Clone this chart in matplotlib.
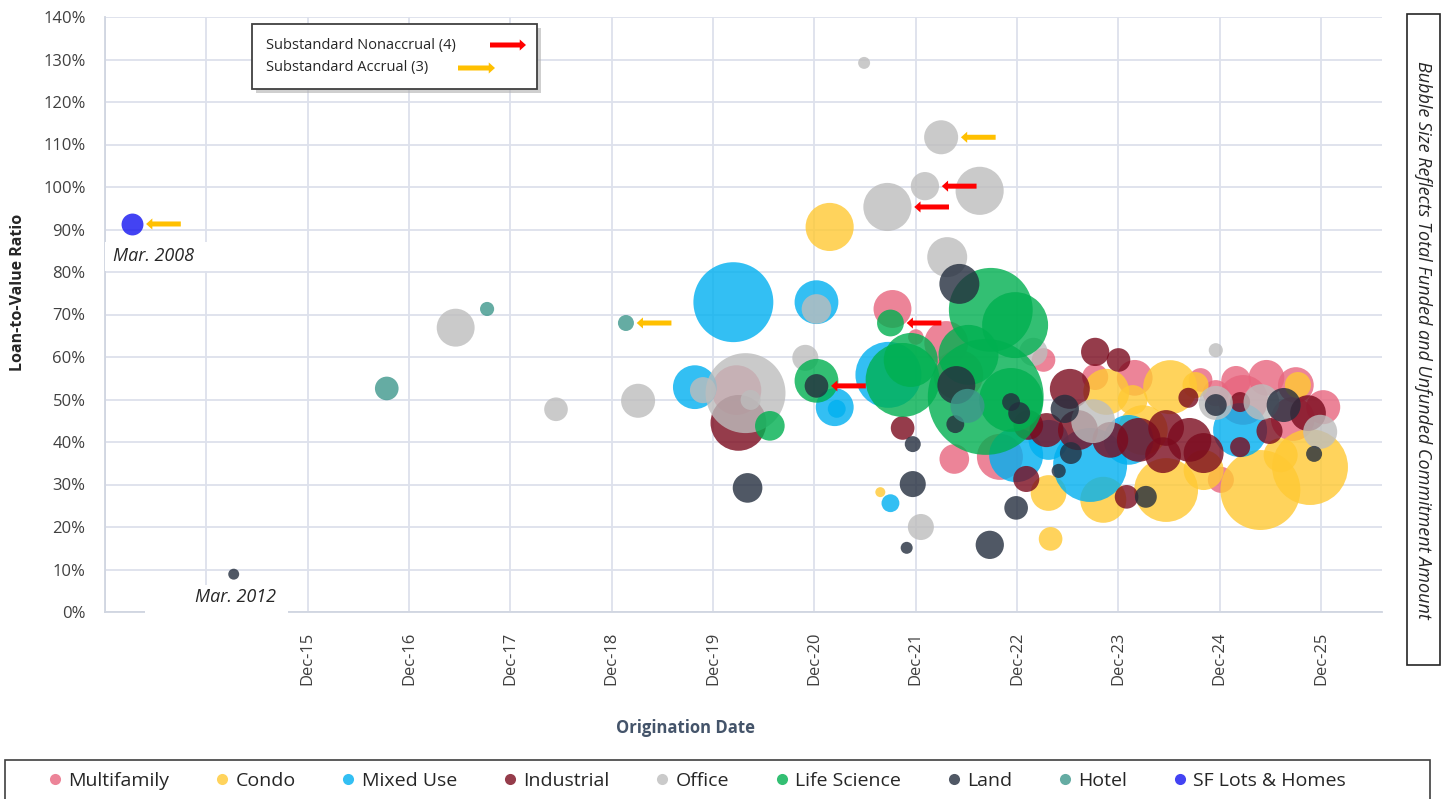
import numpy as np
import matplotlib
matplotlib.use('Agg')
import matplotlib.pyplot as plt
from matplotlib.patches import Rectangle, FancyArrowPatch
from matplotlib.lines import Line2D

plt.rcParams['font.family'] = ['Open Sans', 'DejaVu Sans']

# x = origination date as decimal year on the chart axis (the two oldest loans,
# Mar. 2008 and Mar. 2012, sit on a compressed part of the axis at the far left)
# y = loan-to-value ratio (%), amt = total funded + unfunded commitment ($M)
mf_x = [2021.69, 2021.92, 2020.15, 2022.30, 2022.75, 2023.18, 2022.22, 2023.69, 2024.08,
        2024.88, 2025.08, 2025.38, 2025.67, 2025.94, 2024.93, 2022.34, 2024.73, 2025.64, 2025.15]
mf_y = [71.3, 64.7, 52.2, 36.0, 36.5, 59.3, 63.3, 55.3, 55.1,
        51.5, 54.4, 55.1, 53.4, 48.2, 31.1, 55.8, 54.6, 45.4, 49.9]
mf_amt = [36, 6, 62, 22, 53, 14, 48, 17, 32, 17, 22, 32, 32, 29, 17, 62, 14, 48, 62]

condo_x = [2021.07, 2021.57, 2023.23, 2023.25, 2023.77, 2024.39, 2024.43, 2024.68,
           2023.80, 2025.32, 2025.81, 2025.69, 2025.52, 2024.16, 2024.76, 2024.06]
condo_y = [90.6, 28.2, 28.0, 17.2, 26.4, 28.7, 52.9, 53.4, 51.8, 28.7, 34.1, 53.4, 36.9, 42.8, 33.4, 49.9]
condo_amt = [58, 2.5, 32, 14, 53, 102, 73, 17, 53, 160, 144, 17, 29, 62, 40, 22]

mixed_x = [2020.12, 2020.94, 2019.74, 2021.12, 2021.14, 2021.65, 2021.67, 2022.91,
           2023.64, 2024.02, 2023.23, 2025.12]
mixed_y = [72.9, 72.9, 52.9, 48.2, 47.8, 55.8, 25.6, 36.9, 34.6, 40.5, 40.5, 42.8]
mixed_amt = [160, 48, 48, 36, 8, 109, 8, 73, 137, 62, 40, 73]

ind_x = [2020.17, 2021.79, 2023.01, 2023.69, 2023.92, 2023.44, 2023.21, 2023.84, 2024.12,
         2024.39, 2024.62, 2024.76, 2024.61, 2024.00, 2025.12, 2025.12, 2025.41, 2025.79,
         2023.52, 2024.36, 2023.03]
ind_y = [44.5, 43.3, 31.3, 61.2, 59.3, 52.5, 42.8, 40.5, 40.5, 43.3, 40.5, 37.4, 50.4,
         27.1, 38.8, 49.4, 42.6, 46.8, 42.8, 36.9, 44.0]
ind_amt = [78, 14, 17, 20, 14, 40, 29, 32, 48, 32, 48, 40, 10, 14, 10, 10, 17, 32, 40, 32, 22]

office_x = [2022.55, 2022.01, 2021.64, 2022.23, 2020.94, 2020.24, 2020.29, 2019.82, 2020.83,
            2021.97, 2023.67, 2024.88, 2024.88, 2025.33, 2025.91, 2021.41, 2022.17, 2018.37,
            2017.38, 2019.18, 2023.08]
office_y = [99.1, 100.2, 95.3, 83.5, 71.3, 51.5, 49.9, 52.2, 59.8, 20.0, 44.9, 61.6, 49.2,
            49.4, 42.4, 129.2, 111.7, 47.7, 66.9, 49.7, 61.2]
office_amt = [58, 20, 58, 40, 22, 160, 10, 17, 17, 17, 48, 5, 29, 32, 29, 3.6, 29, 14, 36, 29, 20]

life_x = [2022.66, 2022.90, 2021.67, 2021.79, 2021.87, 2022.61, 2022.86, 2020.94, 2020.48, 2022.44]
life_y = [71.1, 67.5, 68.0, 54.6, 59.3, 50.6, 49.9, 54.4, 43.8, 60.5]
life_amt = [176, 109, 18, 137, 73, 336, 102, 48, 22, 90]

land_x = [2022.35, 2022.32, 2020.94, 2022.31, 2022.86, 2022.94, 2021.89, 2020.26, 2021.89,
          2021.83, 2022.65, 2022.91, 2023.39, 2023.45, 2023.33, 2024.19, 2024.88, 2025.55,
          2025.85, 2015.19]
land_y = [77.2, 53.4, 53.2, 44.2, 49.4, 46.8, 39.5, 29.2, 30.1, 15.1, 15.8, 24.5, 47.8,
          37.4, 33.2, 27.1, 48.7, 48.7, 37.2, 8.9]
land_amt = [40, 36, 14, 8, 8, 12, 6.4, 22, 17, 3.6, 20, 14, 20, 12, 5, 12, 12, 29, 6.4, 3]

hotel_x = [2016.70, 2017.69, 2019.06, 2022.43]
hotel_y = [52.6, 71.3, 68.0, 48.5]
hotel_amt = [14, 5, 6.4, 29]

sf_x = [2014.19]
sf_y = [91.3]
sf_amt = [12]

categories = ['Multifamily', 'Condo', 'Mixed Use', 'Industrial', 'Office',
              'Life Science', 'Land', 'Hotel', 'SF Lots & Homes']
colors = ['#E8657E', '#FFC933', '#00B0F0', '#7B0B1E', '#BDBDBD',
          '#00B050', '#242E3E', '#3E978C', '#1414F0']

series = {
    'Multifamily': (mf_x, mf_y, mf_amt),
    'Condo': (condo_x, condo_y, condo_amt),
    'Mixed Use': (mixed_x, mixed_y, mixed_amt),
    'Industrial': (ind_x, ind_y, ind_amt),
    'Office': (office_x, office_y, office_amt),
    'Life Science': (life_x, life_y, life_amt),
    'Land': (land_x, land_y, land_amt),
    'Hotel': (hotel_x, hotel_y, hotel_amt),
    'SF Lots & Homes': (sf_x, sf_y, sf_amt),
}

# flagged loans: (category, index in that category)
nonaccrual = [('Office', 1), ('Office', 2), ('Life Science', 2), ('Land', 2)]
accrual = [('SF Lots & Homes', 0), ('Hotel', 2), ('Office', 16)]

tick_pos = [2013.92 + i for i in range(13)]
tick_labels = ['', '', 'Dec-15', 'Dec-16', 'Dec-17', 'Dec-18', 'Dec-19', 'Dec-20',
               'Dec-21', 'Dec-22', 'Dec-23', 'Dec-24', 'Dec-25']

SIZE_K = 20.7  # marker area (pt^2) per $M
ALPHA = 0.8
RED = '#FF0000'
ORANGE = '#FFC000'
ARROW = 'simple,head_length=0.45,head_width=0.8,tail_width=0.36'
W, H = 1441, 799

fig = plt.figure(figsize=(W / 100, H / 100), dpi=100)
ax = fig.add_axes([105 / W, 1 - 612 / H, 1277 / W, 595 / H])

for name, col in zip(categories, colors):
    x, y, amt = series[name]
    ax.scatter(x, y, s=np.array(amt) * SIZE_K, color=col, alpha=ALPHA,
               linewidths=0, zorder=3)


def flag(name, i, col):
    x, y, amt = series[name]
    r = np.sqrt(amt[i] * SIZE_K) / 2
    ax.annotate('', xy=(x[i], y[i]), xytext=(r + 2 + 25, 0), textcoords='offset points',
                arrowprops=dict(arrowstyle=ARROW, mutation_scale=10, color=col, lw=0,
                                shrinkA=0, shrinkB=r + 2),
                zorder=6)


for name, i in nonaccrual:
    flag(name, i, RED)
for name, i in accrual:
    flag(name, i, ORANGE)

ax.set_xlim(2013.92, 2026.52)
ax.set_ylim(0, 140)
ax.set_xticks(tick_pos)
ax.set_xticklabels(tick_labels, rotation=90)
ax.set_yticks(range(0, 141, 10))
ax.set_yticklabels([f'{v}%' for v in range(0, 141, 10)])
ax.tick_params(axis='x', length=0, pad=14, labelsize=12, labelcolor='#404040')
ax.tick_params(axis='y', length=0, pad=14, labelsize=12, labelcolor='#404040')
ax.grid(True, color='#DDE1EC', lw=1.3)
ax.set_axisbelow(True)
for side in ['top', 'right']:
    ax.spines[side].set_visible(False)
for side in ['left', 'bottom']:
    ax.spines[side].set_color('#D0D5E0')
    ax.spines[side].set_linewidth(1.3)

# white label backgrounds for the two old loans
ax.add_patch(Rectangle((0.0, 0.573), 0.098, 0.049, transform=ax.transAxes,
                       fc='white', ec='none', zorder=2.6, clip_on=False))
ax.add_patch(Rectangle((0.0313, -0.004), 0.112, 0.05, transform=ax.transAxes,
                       fc='white', ec='none', zorder=2.6, clip_on=False))
ax.annotate('Mar. 2008', xy=(sf_x[0], sf_y[0]), xytext=(-14, -23), textcoords='offset points',
            ha='left', va='center', fontsize=13, style='italic', color='#262626', zorder=7)
ax.annotate('Mar. 2012', xy=(land_x[-1], land_y[-1]), xytext=(-28, -16.5),
            textcoords='offset points', ha='left', va='center', fontsize=13,
            style='italic', color='#262626', zorder=7, annotation_clip=False)

fig.text(18 / W, 1 - 292 / H, 'Loan-to-Value Ratio', rotation=90, ha='center', va='center',
         fontsize=11.5, fontweight='bold', color='#262626')
fig.text(686 / W, 1 - 728 / H, 'Origination Date', ha='center', va='center',
         fontsize=12, fontweight='bold', color='#44546A')

# key for the arrows
fig.patches.append(Rectangle((256 / W, 1 - 93 / H), 285 / W, 65 / H, transform=fig.transFigure,
                             fc='#B0B0B0', ec='none', alpha=0.6, zorder=8))
fig.patches.append(Rectangle((252 / W, 1 - 89 / H), 285 / W, 65 / H, transform=fig.transFigure,
                             fc='white', ec='#404040', lw=1.3, zorder=9))
fig.text(266 / W, 1 - 45 / H, 'Substandard Nonaccrual (4)', ha='left', va='center',
         fontsize=10.5, color='#262626', zorder=10)
fig.text(266 / W, 1 - 68 / H, 'Substandard Accrual (3)', ha='left', va='center',
         fontsize=10.5, color='#262626', zorder=10)
for (x0, x1, yy, col) in [(490, 526, 45, RED), (458, 495, 68, ORANGE)]:
    fig.add_artist(FancyArrowPatch(
        (x0 / W, 1 - yy / H), (x1 / W, 1 - yy / H), transform=fig.transFigure,
        arrowstyle=ARROW, mutation_scale=10, color=col, lw=0, shrinkA=0, shrinkB=0, zorder=10))

# bubble-size note on the right
fig.patches.append(Rectangle((1407 / W, 1 - 665 / H), 33 / W, 651 / H, transform=fig.transFigure,
                             fc='white', ec='#262626', lw=1.2, zorder=8))
fig.text(1423 / W, 1 - 340 / H, 'Bubble Size Reflects Total Funded and Unfunded Commitment Amount',
         rotation=-90, ha='center', va='center', fontsize=13, style='italic',
         color='#262626', zorder=9)

# legend strip at the bottom
fig.patches.append(Rectangle((5 / W, 1 - 810 / H), 1425 / W, 50 / H, transform=fig.transFigure,
                             fc='white', ec='#404040', lw=1.2, zorder=8))
handles = [Line2D([], [], marker='o', linestyle='none', markersize=8, markerfacecolor=c,
                  markeredgewidth=0, alpha=ALPHA) for c in colors]
leg = fig.legend(handles, categories, loc='center left', bbox_to_anchor=(47 / W, 1 - 781 / H),
                 ncol=9, frameon=False, fontsize=14, handlelength=0.8, handletextpad=0.3,
                 columnspacing=2.3, borderpad=0, borderaxespad=0)
leg.set_zorder(9)
for t in leg.get_texts():
    t.set_color('#262626')

fig.savefig('out.png', dpi=100)
